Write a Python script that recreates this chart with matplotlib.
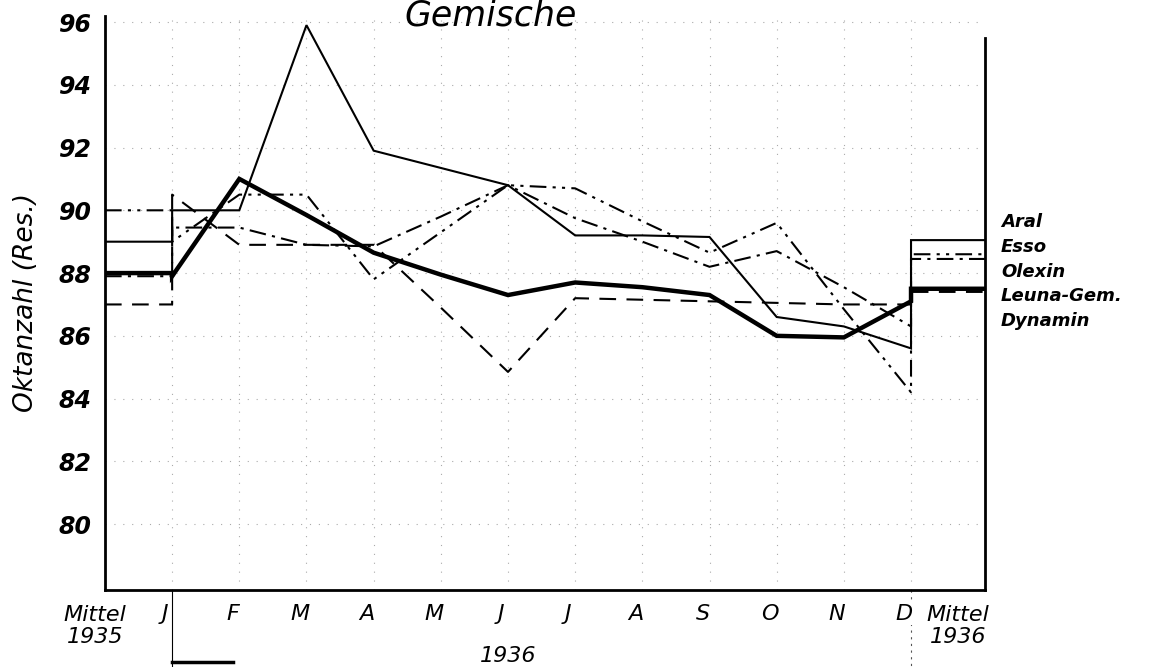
import matplotlib
matplotlib.use("Agg")
import matplotlib.pyplot as plt

# Oktanzahl (Res.) per month 1936, plus yearly means 1935 / 1936
months = ["J", "F", "M", "A", "M", "J", "J", "A", "S", "O", "N", "D"]
names = ["Aral", "Esso", "Olexin", "Leuna-Gem.", "Dynamin"]

aral = [90.0, 90.0, 95.9, 91.9, 91.35, 90.8, 89.2, 89.2, 89.15, 86.6, 86.3, 85.6]
esso = [89.0, 90.5, 90.5, 87.8, 89.3, 90.8, 90.7, 89.65, 88.65, 89.6, 86.85, 84.2]
olexin = [89.45, 89.45, 88.9, 88.85, 89.8, 90.8, 89.75, 89.0, 88.2, 88.7, 87.55, 86.3]
leuna = [87.9, 91.0, 89.85, 88.65, 87.95, 87.3, 87.7, 87.55, 87.3, 86.0, 85.95, 87.1]
dynamin = [90.5, 88.9, 88.9, 88.9, 86.9, 84.85, 87.2, 87.15, 87.1, 87.05, 87.0, 87.0]

mittel_1935 = [89.0, 90.0, 87.9, 88.0, 87.0]
mittel_1936 = [89.05, 88.6, 88.45, 87.5, 87.4]

series = [aral, esso, olexin, leuna, dynamin]
styles = [
    dict(ls="-", lw=1.5),
    dict(ls=(0, (8, 3, 1.5, 3, 1.5, 3)), lw=1.5),
    dict(ls=(0, (8, 3, 1.5, 3)), lw=1.5),
    dict(ls="-", lw=3.2),
    dict(ls=(0, (8, 5)), lw=1.5),
]

X_LEFT, X_RIGHT = -1.0, 12.1
Y_LO, Y_HI = 77.9, 96.2

fig = plt.figure(figsize=(11.56, 6.67), dpi=100)
ax = fig.add_axes([0.0908, 0.1154, 0.7612, 0.861])

# faint dotted grid like the printed paper
for gy in range(80, 97, 2):
    ax.plot([X_LEFT, X_RIGHT], [gy, gy], color="#aaaaaa", lw=0.8,
            ls=(0, (1, 7)), zorder=1)
for gx in range(12):
    ax.plot([gx, gx], [Y_LO, Y_HI], color="#aaaaaa", lw=0.8,
            ls=(0, (1, 7)), zorder=1)

for vals, m35, m36, st in zip(series, mittel_1935, mittel_1936, styles):
    xs = [X_LEFT, 0] + list(range(12)) + [11, X_RIGHT]
    ys = [m35, m35] + vals + [m36, m36]
    ax.plot(xs, ys, color="black", zorder=3, solid_joinstyle="miter", **st)

# year separators below the axis
ax.plot([0, 0], [Y_LO, 74.5], color="black", lw=0.8, clip_on=False)
ax.plot([11, 11], [Y_LO, 74.5], color="#555555", lw=0.8,
        ls=(0, (2, 4)), clip_on=False)
ax.plot([0, 0.9], [75.6, 75.6], color="black", lw=2.5, clip_on=False)

ax.set_xlim(X_LEFT, X_RIGHT)
ax.set_ylim(Y_LO, Y_HI)
ax.spines["top"].set_visible(False)
ax.spines["right"].set_bounds(Y_LO, 95.5)
for s in ["left", "right", "bottom"]:
    ax.spines[s].set_linewidth(2)

ax.set_yticks(range(80, 97, 2))
ax.set_yticklabels([str(v) for v in range(80, 97, 2)], fontsize=17,
                   style="italic", fontweight="bold")
ax.set_xticks([])
ax.tick_params(axis="y", length=0, pad=10)

for i, m in enumerate(months):
    ax.text(i - 0.1, 77.15, m, ha="center", va="center", fontsize=16,
            style="italic", bbox=dict(fc="white", ec="none", pad=1))
ax.text(-1.15, 76.75, "Mittel\n1935", ha="center", va="center", fontsize=16,
        style="italic", linespacing=1.15)
ax.text(11.7, 76.75, "Mittel\n1936", ha="center", va="center", fontsize=16,
        style="italic", linespacing=1.15)
ax.text(5.0, 75.8, "1936", ha="center", va="center", fontsize=16,
        style="italic")

ax.set_ylabel("Oktanzahl (Res.)", fontsize=19, style="italic", labelpad=14)

# series names at the right edge
for k, nm in enumerate(names):
    fig.text(0.866, 1 - (222 + k * 24.8) / 667, nm, fontsize=13,
             style="italic", fontweight="bold", va="center")

fig.text(0.424, 1 - 26 / 667, "Gemische", fontsize=25, style="italic",
         ha="center", va="baseline")

fig.savefig("out.png", dpi=100, facecolor="white")
